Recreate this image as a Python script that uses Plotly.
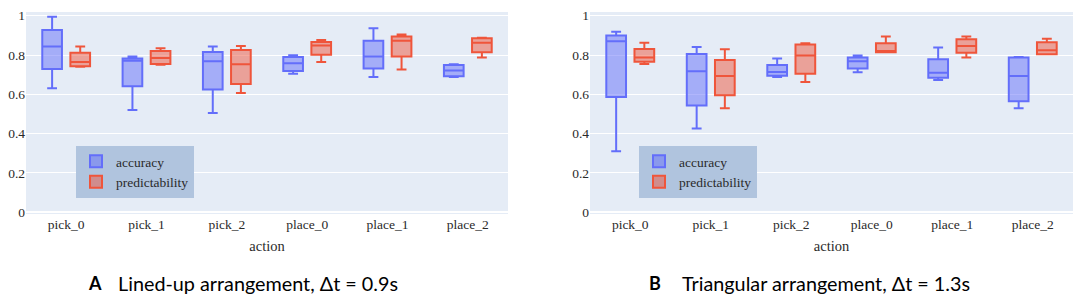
import plotly.graph_objects as go

actions = ["pick_0", "pick_1", "pick_2", "place_0", "place_1", "place_2"]

# Panel A: Lined-up arrangement
a_acc_min = [0.631, 0.520, 0.505, 0.705, 0.688, 0.688]
a_acc_q1 = [0.729, 0.641, 0.624, 0.719, 0.732, 0.692]
a_acc_med = [0.844, 0.771, 0.768, 0.758, 0.793, 0.721]
a_acc_q3 = [0.927, 0.782, 0.815, 0.790, 0.873, 0.749]
a_acc_max = [0.995, 0.792, 0.843, 0.799, 0.936, 0.753]

a_pred_min = [0.741, 0.751, 0.607, 0.765, 0.727, 0.788]
a_pred_q1 = [0.743, 0.754, 0.653, 0.802, 0.792, 0.814]
a_pred_med = [0.765, 0.785, 0.753, 0.849, 0.873, 0.863]
a_pred_q3 = [0.812, 0.821, 0.826, 0.866, 0.894, 0.885]
a_pred_max = [0.843, 0.834, 0.846, 0.877, 0.904, 0.888]

# Panel B: Triangular arrangement
b_acc_min = [0.310, 0.426, 0.688, 0.712, 0.673, 0.529]
b_acc_q1 = [0.587, 0.543, 0.695, 0.731, 0.685, 0.565]
b_acc_med = [0.870, 0.717, 0.714, 0.768, 0.710, 0.693]
b_acc_q3 = [0.899, 0.805, 0.749, 0.788, 0.778, 0.787]
b_acc_max = [0.919, 0.841, 0.782, 0.797, 0.838, 0.790]

b_pred_min = [0.754, 0.529, 0.663, 0.814, 0.788, 0.804]
b_pred_q1 = [0.766, 0.595, 0.705, 0.814, 0.812, 0.804]
b_pred_med = [0.788, 0.693, 0.797, 0.821, 0.846, 0.824]
b_pred_q3 = [0.831, 0.775, 0.853, 0.860, 0.880, 0.865]
b_pred_max = [0.863, 0.829, 0.860, 0.894, 0.894, 0.883]

y_ticks = [0, 0.2, 0.4, 0.6, 0.8, 1]
y_tick_labels = ["0", "0.2", "0.4", "0.6", "0.8", "1"]

BLUE = "#636EFA"
RED = "#EF553B"
SERIF = "Liberation Serif"

fig = go.Figure()

def add_box(name, color, xa, ya, legend, lo, q1, med, q3, hi):
    fig.add_trace(go.Box(
        name=name, x=actions, lowerfence=lo, q1=q1, median=med, q3=q3, upperfence=hi,
        marker_color=color, line=dict(color=color, width=2),
        xaxis=xa, yaxis=ya, legend=legend, offsetgroup=name,
    ))

add_box("accuracy", BLUE, "x", "y", "legend", a_acc_min, a_acc_q1, a_acc_med, a_acc_q3, a_acc_max)
add_box("predictability", RED, "x", "y", "legend", a_pred_min, a_pred_q1, a_pred_med, a_pred_q3, a_pred_max)
add_box("accuracy", BLUE, "x2", "y2", "legend2", b_acc_min, b_acc_q1, b_acc_med, b_acc_q3, b_acc_max)
add_box("predictability", RED, "x2", "y2", "legend2", b_pred_min, b_pred_q1, b_pred_med, b_pred_q3, b_pred_max)

# page has an 8px body margin: figure is placed at (8, 8) on the page
OFF = 8
W, H = 1084 - OFF, 305 - OFF

def px(x):
    return (x - OFF) / W

def py(y):
    return 1 - (y - OFF) / H

axis_font = dict(family=SERIF, size=13.5, color="#2a2a2a")

xcommon = dict(type="category", showgrid=False, zeroline=False, showline=False,
               tickfont=axis_font, ticks="", ticklen=0, automargin=False,
               title=dict(text="action", font=dict(family=SERIF, size=14.5, color="#2a2a2a"), standoff=10))
ycommon = dict(range=[-0.009, 1.019], tickvals=y_ticks, ticktext=y_tick_labels,
               showgrid=True, gridcolor="white", gridwidth=1,
               zeroline=True, zerolinecolor="white", zerolinewidth=2,
               showline=False, tickfont=axis_font, ticks="", automargin=False)

legend_common = dict(bgcolor="#B0C4DE", font=dict(family=SERIF, size=13.5, color="#2a2a2a"),
                     xanchor="left", yanchor="top", borderwidth=0,
                     itemclick=False, itemdoubleclick=False)

fig.update_layout(
    width=W, height=H,
    margin=dict(l=0, r=0, t=0, b=0, autoexpand=False),
    paper_bgcolor="white",
    plot_bgcolor="#E5ECF6",
    boxmode="group",
    xaxis=dict(domain=[px(26), px(508)], anchor="y", **xcommon),
    yaxis=dict(domain=[py(214), py(12)], anchor="x", **ycommon),
    xaxis2=dict(domain=[px(590), px(1073)], anchor="y2", **xcommon),
    yaxis2=dict(domain=[py(214), py(12)], anchor="x2", **ycommon),
    legend=dict(x=px(76), y=py(146), **legend_common),
    legend2=dict(x=px(639), y=py(146), **legend_common),
    showlegend=True,
    annotations=[
        dict(text="<b>A</b>", x=px(86), y=py(283), xref="paper", yref="paper",
             xanchor="left", yanchor="middle", showarrow=False,
             font=dict(family="Lato", size=18, color="black")),
        dict(text="Lined-up arrangement, Δt = 0.9s", x=px(116), y=py(283), xref="paper", yref="paper",
             xanchor="left", yanchor="middle", showarrow=False,
             font=dict(family="Lato", size=19.8, color="black")),
        dict(text="<b>B</b>", x=px(647), y=py(283), xref="paper", yref="paper",
             xanchor="left", yanchor="middle", showarrow=False,
             font=dict(family="Lato", size=18, color="black")),
        dict(text="Triangular arrangement, Δt = 1.3s", x=px(680), y=py(283), xref="paper", yref="paper",
             xanchor="left", yanchor="middle", showarrow=False,
             font=dict(family="Lato", size=19.8, color="black")),
    ],
)

fig.write_html("out.html")
